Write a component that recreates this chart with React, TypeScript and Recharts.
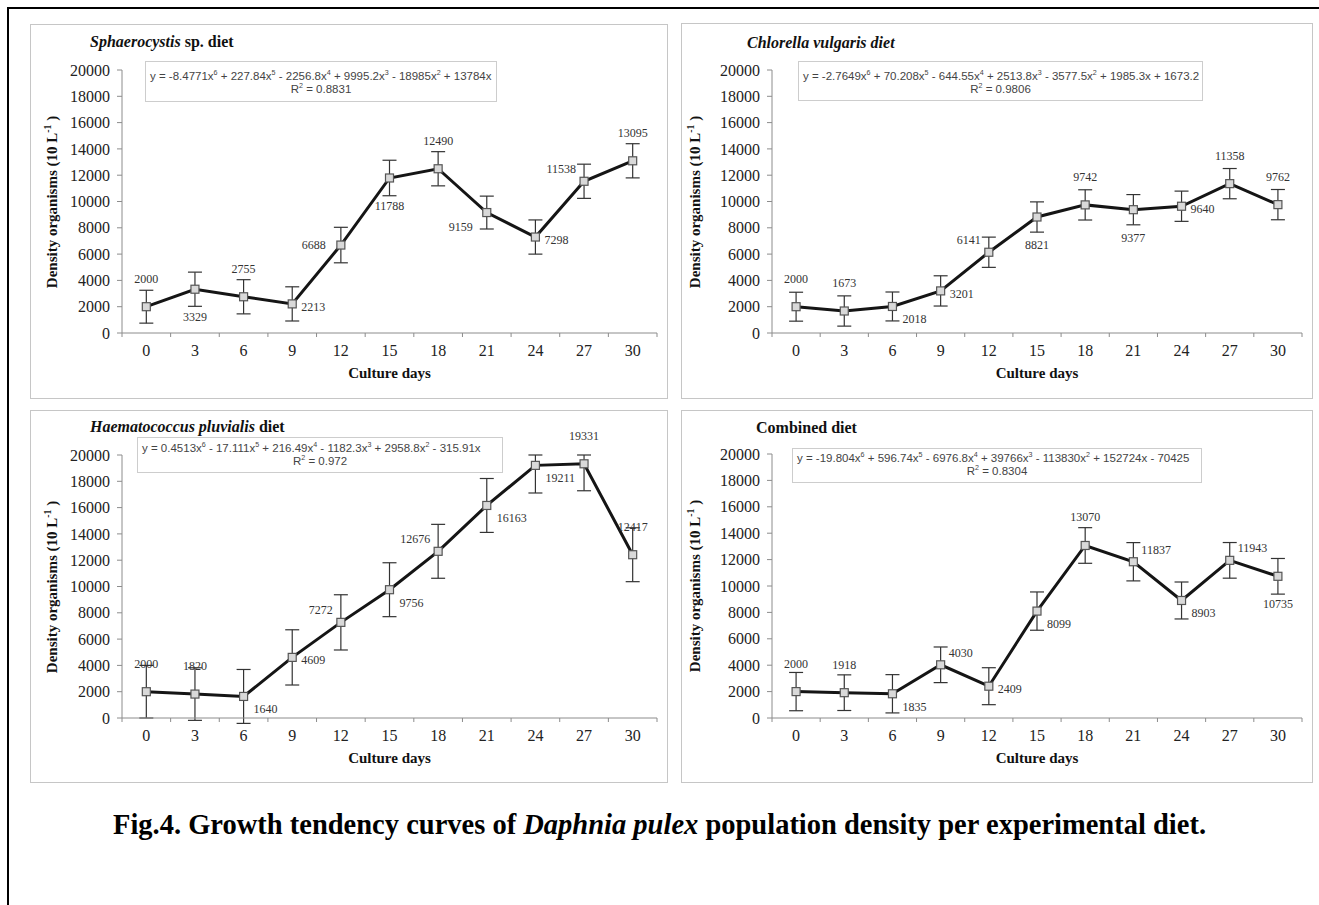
import React from 'react';
import { LineChart, Line, XAxis, YAxis, ErrorBar, LabelList } from 'recharts';

const SERIF = '"Liberation Serif", "Times New Roman", Times, serif';
const SANS = '"Liberation Sans", Arial, sans-serif';

// ---------- data ----------
const days = [0, 3, 6, 9, 12, 15, 18, 21, 24, 27, 30];
const densityTicks = [0, 2000, 4000, 6000, 8000, 10000, 12000, 14000, 16000, 18000, 20000];

const sphaerocystisValues = [2000, 3329, 2755, 2213, 6688, 11788, 12490, 9159, 7298, 11538, 13095];
const sphaerocystisErrors = [1250, 1300, 1300, 1300, 1350, 1350, 1300, 1250, 1300, 1300, 1300];
const sphaerocystisLabelSide = ['above', 'below', 'above', 'right', 'left', 'below', 'above', 'belowLeft', 'right', 'aboveLeft', 'above'];

const chlorellaValues = [2000, 1673, 2018, 3201, 6141, 8821, 9742, 9377, 9640, 11358, 9762];
const chlorellaErrors = [1100, 1150, 1100, 1150, 1150, 1150, 1150, 1150, 1150, 1150, 1150];
const chlorellaLabelSide = ['above', 'above', 'belowRight', 'right', 'aboveLeft', 'below', 'above', 'below', 'right', 'above', 'above'];

const haematococcusValues = [2000, 1820, 1640, 4609, 7272, 9756, 12676, 16163, 19211, 19331, 12417];
const haematococcusErrors: any[] = [2000, 2000, 2050, 2100, 2100, 2050, 2050, 2050, [2100, 789], [2050, 669], 2050];
const haematococcusLabelSide = ['above', 'above', 'belowRight', 'right', 'aboveLeft', 'belowRight', 'aboveLeft', 'belowRight', 'belowRight', 'above', 'above'];

const combinedValues = [2000, 1918, 1835, 4030, 2409, 8099, 13070, 11837, 8903, 11943, 10735];
const combinedErrors = [1450, 1350, 1450, 1350, 1400, 1450, 1350, 1450, 1400, 1350, 1350];
const combinedLabelSide = ['above', 'above', 'belowRight', 'aboveRight', 'right', 'belowRight', 'above', 'aboveRight', 'belowRight', 'aboveRight', 'below'];

const eqSphaerocystis = ['y = -8.4771x^6 + 227.84x^5 - 2256.8x^4 + 9995.2x^3 - 18985x^2 + 13784x', 'R^2 = 0.8831'];
const eqChlorella = ['y = -2.7649x^6 + 70.208x^5 - 644.55x^4 + 2513.8x^3 - 3577.5x^2 + 1985.3x + 1673.2', 'R^2 = 0.9806'];
const eqHaematococcus = ['y = 0.4513x^6 - 17.111x^5 + 216.49x^4 - 1182.3x^3 + 2958.8x^2 - 315.91x', 'R^2 = 0.972'];
const eqCombined = ['y = -19.804x^6 + 596.74x^5 - 6976.8x^4 + 39766x^3 - 113830x^2 + 152724x - 70425', 'R^2 = 0.8304'];

const xTicks = [...days.flatMap((d) => [d - 1.5, d]), 31.5];

// ---------- helpers ----------
const withSup = (s: string) => {
  const parts = s.split(/\^(\d)/);
  return parts.map((p, i) =>
    i % 2 === 1 ? (
      <sup key={i} style={{ fontSize: '0.62em', lineHeight: 0 }}>{p}</sup>
    ) : (
      <span key={i}>{p}</span>
    )
  );
};

const labelOffsets: Record<string, { dx: number; dy: number; anchor: string }> = {
  above: { dx: 0, dy: -28, anchor: 'middle' },
  below: { dx: 0, dy: 28, anchor: 'middle' },
  right: { dx: 9, dy: 3, anchor: 'start' },
  left: { dx: -15, dy: 0, anchor: 'end' },
  aboveLeft: { dx: -8, dy: -12, anchor: 'end' },
  belowLeft: { dx: -14, dy: 14, anchor: 'end' },
  belowRight: { dx: 10, dy: 13, anchor: 'start' },
  aboveRight: { dx: 8, dy: -12, anchor: 'start' },
};

const makeLabel = (sides: string[]) => (props: any) => {
  const { x, y, value, index } = props;
  const o = labelOffsets[sides[index]] || labelOffsets.above;
  return (
    <text
      key={`lbl-${index}`}
      x={x + o.dx}
      y={y + o.dy}
      textAnchor={o.anchor as any}
      dominantBaseline="central"
      fontFamily={SERIF}
      fontSize={12}
      fill="#333"
    >
      {value}
    </text>
  );
};

const renderDot = (props: any) => {
  const { cx, cy, index } = props;
  return (
    <rect key={`dot-${index}`} x={cx - 4} y={cy - 4} width={8} height={8} fill="#d9d9d9" stroke="#555" strokeWidth={1.2} />
  );
};

const renderDayTick = (props: any) => {
  const { x, y, payload } = props;
  const v = payload.value;
  if (Number.isInteger(v)) {
    return (
      <text x={x} y={y} dy={23} textAnchor="middle" fontFamily={SERIF} fontSize={16} fill="#222">
        {v}
      </text>
    );
  }
  return <line x1={x} x2={x} y1={y} y2={y + 4} stroke="#8c8c8c" strokeWidth={1} />;
};

type PanelProps = {
  frame: { x: number; y: number; w: number; h: number };
  margin: { top: number; right: number; bottom: number; left: number };
  title: React.ReactNode;
  titlePos: { x: number; y: number };
  eq: string[];
  eqBox: { x: number; y: number; w: number; h: number; pad: number };
  yLabelX: number;
  values: number[];
  errors: any[];
  sides: string[];
};

const Y_AXIS_W = 62;
const X_AXIS_H = 40;

function Panel(p: PanelProps) {
  const { frame, margin } = p;
  const data = days.map((d, i) => ({ day: d, density: p.values[i], sd: p.errors[i] }));
  const plotLeft = margin.left + Y_AXIS_W;
  const plotRight = frame.w - margin.right;
  const plotTop = margin.top;
  const plotBottom = frame.h - margin.bottom - X_AXIS_H;
  return (
    <div style={{ position: 'absolute', left: frame.x, top: frame.y, width: frame.w, height: frame.h }}>
      <div
        style={{
          position: 'absolute',
          left: 0,
          top: 0,
          width: frame.w,
          height: frame.h,
          border: '1px solid #c6c6c6',
          boxSizing: 'border-box',
        }}
      />
      <div style={{ position: 'absolute', left: 0, top: 0 }}>
        <LineChart width={frame.w} height={frame.h} data={data} margin={margin}>
          <XAxis
            dataKey="day"
            type="number"
            domain={[-1.5, 31.5]}
            ticks={xTicks}
            interval={0}
            tick={renderDayTick}
            tickLine={false}
            tickSize={0}
            tickMargin={0}
            axisLine={{ stroke: '#8c8c8c' }}
            height={X_AXIS_H}
            allowDataOverflow
          />
          <YAxis
            type="number"
            domain={[0, 20000]}
            ticks={densityTicks}
            interval={0}
            width={Y_AXIS_W}
            tickSize={5}
            tickMargin={7}
            tick={{ fontFamily: SERIF, fontSize: 16, fill: '#222' }}
            axisLine={{ stroke: '#8c8c8c' }}
            tickLine={{ stroke: '#8c8c8c' }}
            allowDataOverflow
          />
          <Line
            dataKey="density"
            type="linear"
            stroke="#151515"
            strokeWidth={3}
            dot={renderDot}
            activeDot={false}
            isAnimationActive={false}
          >
            <ErrorBar dataKey="sd" direction="y" width={7} stroke="#333" strokeWidth={1.2} />
            <LabelList dataKey="density" content={makeLabel(p.sides)} />
          </Line>
        </LineChart>
      </div>
      <div
        style={{
          position: 'absolute',
          left: p.titlePos.x,
          top: p.titlePos.y,
          fontFamily: SERIF,
          fontWeight: 'bold',
          fontSize: 16,
          lineHeight: '16px',
          whiteSpace: 'nowrap',
          color: '#111',
        }}
      >
        {p.title}
      </div>
      <div
        style={{
          position: 'absolute',
          left: p.eqBox.x,
          top: p.eqBox.y,
          width: p.eqBox.w,
          height: p.eqBox.h,
          border: '1px solid #cdcdcd',
          boxSizing: 'border-box',
          fontFamily: SANS,
          fontSize: 11.5,
          color: '#444',
          lineHeight: '13px',
          paddingTop: p.eqBox.pad,
          background: '#fff',
        }}
      >
        <div style={{ paddingLeft: 4, whiteSpace: 'nowrap' }}>{withSup(p.eq[0])}</div>
        <div style={{ textAlign: 'center', whiteSpace: 'nowrap' }}>{withSup(p.eq[1])}</div>
      </div>
      <div
        style={{
          position: 'absolute',
          left: p.yLabelX,
          top: (plotTop + plotBottom) / 2,
          transform: 'translate(-50%, -50%) rotate(-90deg)',
          fontFamily: SERIF,
          fontWeight: 'bold',
          fontSize: 15,
          whiteSpace: 'nowrap',
          color: '#111',
        }}
      >
        Density organisms (10 L<sup style={{ fontSize: '0.65em', lineHeight: 0 }}>-1</sup> )
      </div>
      <div
        style={{
          position: 'absolute',
          left: (plotLeft + plotRight) / 2,
          top: plotBottom + 40,
          transform: 'translate(-50%, -50%)',
          fontFamily: SERIF,
          fontWeight: 'bold',
          fontSize: 15,
          whiteSpace: 'nowrap',
          color: '#111',
        }}
      >
        Culture days
      </div>
    </div>
  );
}

export default function App() {
  return (
    <div
      style={{
        position: 'absolute',
        left: 0,
        top: 0,
        width: 1319,
        height: 905,
        background: '#fff',
        overflow: 'hidden',
      }}
    >
      <div
        style={{
          position: 'absolute',
          left: 7,
          top: 7,
          width: 1400,
          height: 1000,
          borderLeft: '2px solid #000',
          borderTop: '2px solid #000',
        }}
      />
      <Panel
        frame={{ x: 30, y: 24, w: 638, h: 375 }}
        margin={{ top: 46, right: 11, left: 30, bottom: 26 }}
        title={<><i>Sphaerocystis</i> sp. diet</>}
        titlePos={{ x: 60, y: 10 }}
        eq={eqSphaerocystis}
        eqBox={{ x: 115, y: 37, w: 352, h: 41, pad: 8 }}
        yLabelX={22}
        values={sphaerocystisValues}
        errors={sphaerocystisErrors}
        sides={sphaerocystisLabelSide}
      />
      <Panel
        frame={{ x: 681, y: 23, w: 632, h: 376 }}
        margin={{ top: 47, right: 11, left: 29, bottom: 26 }}
        title={<i>Chlorella vulgaris diet</i>}
        titlePos={{ x: 66, y: 12 }}
        eq={eqChlorella}
        eqBox={{ x: 117, y: 38, w: 405, h: 40, pad: 8 }}
        yLabelX={14}
        values={chlorellaValues}
        errors={chlorellaErrors}
        sides={chlorellaLabelSide}
      />
      <Panel
        frame={{ x: 30, y: 410, w: 638, h: 373 }}
        margin={{ top: 45, right: 11, left: 30, bottom: 25 }}
        title={<><i>Haematococcus pluvialis</i> diet</>}
        titlePos={{ x: 60, y: 9 }}
        eq={eqHaematococcus}
        eqBox={{ x: 107, y: 27, w: 366, h: 36, pad: 4 }}
        yLabelX={22}
        values={haematococcusValues}
        errors={haematococcusErrors}
        sides={haematococcusLabelSide}
      />
      <Panel
        frame={{ x: 681, y: 410, w: 632, h: 373 }}
        margin={{ top: 44, right: 11, left: 29, bottom: 25 }}
        title={<>Combined diet</>}
        titlePos={{ x: 75, y: 10 }}
        eq={eqCombined}
        eqBox={{ x: 111, y: 38, w: 410, h: 35, pad: 3 }}
        yLabelX={14}
        values={combinedValues}
        errors={combinedErrors}
        sides={combinedLabelSide}
      />
      <div
        style={{
          position: 'absolute',
          left: 0,
          top: 825,
          width: 1319,
          textAlign: 'center',
          transform: 'translateY(-50%)',
          fontFamily: SERIF,
          fontWeight: 'bold',
          fontSize: 28.5,
          color: '#000',
          whiteSpace: 'nowrap',
        }}
      >
        Fig.4. Growth tendency curves of <i>Daphnia pulex</i> population density per experimental diet.
      </div>
    </div>
  );
}
